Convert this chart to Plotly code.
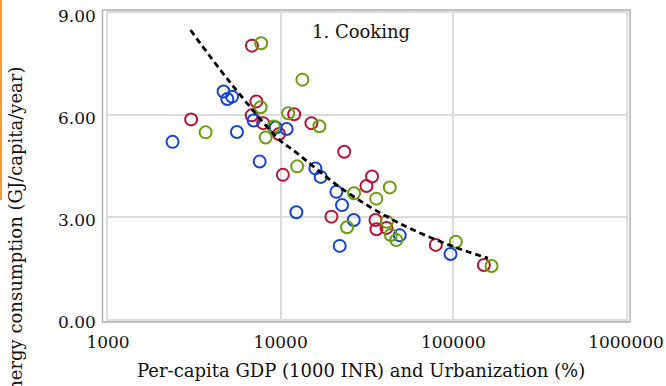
import plotly.graph_objects as go

# ---- data ----
red_x = [6817, 7230, 3030, 6790, 7920, 9780, 11970, 15070, 23340, 10300,
         31390, 33830, 19680, 35400, 35870, 41010, 79160, 150300]
red_y = [8.04, 6.40, 5.87, 5.99, 5.76, 5.44, 6.02, 5.76, 4.92, 4.24,
         3.91, 4.19, 3.01, 2.91, 2.64, 2.68, 2.18, 1.59]

blue_x = [4670, 4910, 5230, 2365, 5580, 6970, 9360, 10830, 7560, 15890,
          17060, 21030, 22670, 12330, 26500, 21980, 48970, 96340]
blue_y = [6.69, 6.47, 6.54, 5.21, 5.50, 5.84, 5.63, 5.59, 4.63, 4.43,
          4.18, 3.74, 3.35, 3.14, 2.91, 2.15, 2.46, 1.91]

green_x = [7710, 13360, 7650, 3675, 9110, 8185, 11050, 16760, 12460, 26610,
           42850, 35770, 24230, 41170, 43420, 46730, 103400, 166500]
green_y = [8.11, 7.04, 6.23, 5.49, 5.66, 5.34, 6.05, 5.67, 4.49, 3.70,
           3.87, 3.54, 2.70, 2.86, 2.47, 2.32, 2.27, 1.56]

trend_x = [3006, 5058, 9870, 11780, 24040, 48980, 100000, 158500]
trend_y = [8.50, 6.98, 5.26, 4.97, 3.74, 2.81, 2.13, 1.79]

x_ticks = [1000, 10000, 100000, 1000000]
x_tick_labels = ["1000", "10000", "100000", "1000000"]
y_ticks = [0, 3, 6, 9]
y_tick_labels = ["0.00", "3.00", "6.00", "9.00"]

panel_label = "1. Cooking"
x_title = "Per-capita GDP (1000 INR) and Urbanization (%)"
y_title = "Energy consumption (GJ/capita/year)"

# ---- styling ----
FONT = "DejaVu Serif"
RED, BLUE, GREEN = "#b8123a", "#1443d6", "#6b9e0c"
GRID = "#dcdcdc"

fig = go.Figure()
for xs, ys, col in [(red_x, red_y, RED), (blue_x, blue_y, BLUE), (green_x, green_y, GREEN)]:
    fig.add_trace(go.Scatter(
        x=xs, y=ys, mode="markers",
        marker=dict(symbol="circle-open", size=12, color=col, line=dict(width=2, color=col)),
        showlegend=False, hoverinfo="skip"))

fig.add_trace(go.Scatter(
    x=trend_x, y=trend_y, mode="lines",
    line=dict(color="black", width=2.8, dash="6px,4px", shape="spline"),
    showlegend=False, hoverinfo="skip"))

fig.update_layout(
    width=666, height=386,
    margin=dict(l=108, r=40, t=13, b=67),
    paper_bgcolor="white", plot_bgcolor="white",
    font=dict(family=FONT, size=18, color="#111111"),
    xaxis=dict(type="log", range=[3, 6], tickvals=x_ticks, ticktext=x_tick_labels,
               automargin=False, ticklabeloverflow="allow",
               showgrid=True, gridcolor=GRID, gridwidth=1.5,
               showline=True, linecolor=GRID, linewidth=1.5, mirror=True,
               ticks="outside", ticklen=7, tickcolor="rgba(0,0,0,0)",
               zeroline=False, tickfont=dict(family=FONT, size=17)),
    yaxis=dict(range=[0, 9], tickvals=y_ticks, ticktext=y_tick_labels,
               automargin=False, ticklabeloverflow="allow",
               showgrid=True, gridcolor=GRID, gridwidth=1.5,
               showline=True, linecolor=GRID, linewidth=1.5, mirror=True,
               ticks="outside", ticklen=7, tickcolor="rgba(0,0,0,0)",
               ticklabelshift=3,
               zeroline=False, tickfont=dict(family=FONT, size=17)),
    shapes=[
        dict(type="rect", xref="paper", yref="paper",
             x0=-0.0106, x1=1.0077, y0=-0.0098, y1=1.0098,
             line=dict(color="#b0b0b0", width=1.5), fillcolor="rgba(0,0,0,0)", layer="below"),
        dict(type="rect", xref="paper", yref="paper",
             x0=-0.2085, x1=-0.2046, y0=(319 - 200) / 306, y1=1.05,
             line=dict(width=0), fillcolor="#f39c34"),
    ],
    annotations=[
        dict(text=panel_label, xref="paper", yref="paper", x=(361 - 108) / 518, y=(319 - 31) / 306,
             xanchor="center", yanchor="middle", showarrow=False, font=dict(family=FONT, size=18)),
        dict(text=x_title, xref="paper", yref="paper", x=(361 - 108) / 518, y=(319 - 370) / 306,
             xanchor="center", yanchor="middle", showarrow=False, font=dict(family=FONT, size=18)),
        dict(text=y_title, xref="paper", yref="paper", x=(15 - 108) / 518, y=(319 - 236) / 306,
             xanchor="center", yanchor="middle", showarrow=False, textangle=-90,
             font=dict(family=FONT, size=18)),
    ],
)

fig.write_html("out.html")
